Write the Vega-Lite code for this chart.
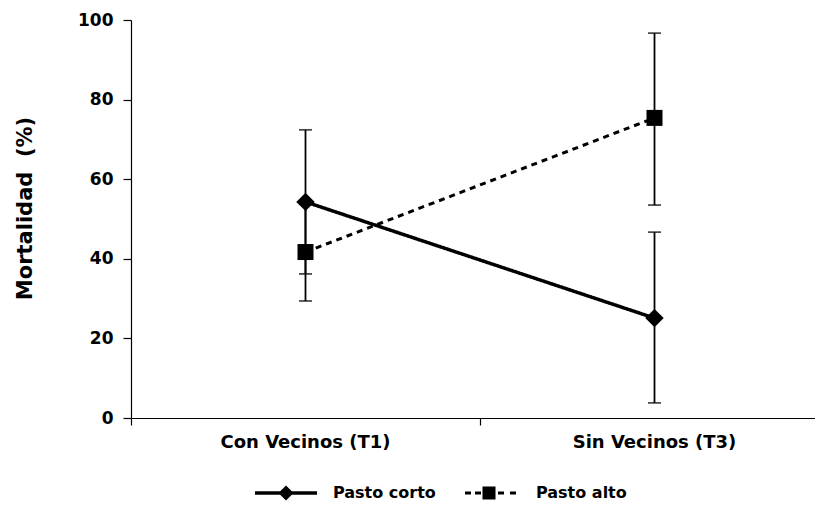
{
  "$schema": "https://vega.github.io/schema/vega-lite/v6.json",
  "autosize": "none",
  "padding": {"left": 131, "top": 20, "right": -14, "bottom": 87},
  "width": 698,
  "height": 398,
  "background": "white",
  "config": {
    "view": {"stroke": null},
    "font": "DejaVu Sans",
    "axis": {"labelFont": "DejaVu Sans", "labelFontWeight": "bold", "labelColor": "black", "titleFont": "DejaVu Sans", "titleColor": "black", "domainColor": "black", "tickColor": "black", "domainWidth": 1.2, "tickWidth": 1.2, "grid": false},
    "legend": {"labelFont": "DejaVu Sans", "labelFontWeight": "bold", "labelColor": "black"}
  },
  "data": {
    "values": [
      {"group": "Pasto corto", "serie": "Pasto corto", "trat": "Con Vecinos (T1)", "m": 54.3, "lo": 36.2, "hi": 72.4},
      {"group": "Pasto corto", "serie": "Pasto corto", "trat": "Sin Vecinos (T3)", "m": 25.1, "lo": 3.8, "hi": 46.7},
      {"group": "Pasto alto", "serie": "Pasto alto", "trat": "Con Vecinos (T1)", "m": 41.7, "lo": 29.4, "hi": 54.0},
      {"group": "Pasto alto", "serie": "Pasto alto", "trat": "Sin Vecinos (T3)", "m": 75.4, "lo": 53.5, "hi": 96.7}
    ]
  },
  "resolve": {"scale": {"shape": "independent", "size": "independent"}},
  "encoding": {
    "x": {
      "field": "trat", "type": "nominal",
      "scale": {"domain": ["Con Vecinos (T1)", "Sin Vecinos (T3)"], "paddingInner": 0, "paddingOuter": 0},
      "axis": {"title": null, "labelAngle": 0, "labelFontSize": 18, "tickSize": 7, "labelPadding": 8, "bandPosition": 0}
    }
  },
  "layer": [
    {
      "mark": {"type": "rule", "color": "black", "strokeWidth": 1.8},
      "encoding": {
        "y": {"field": "lo", "type": "quantitative"},
        "y2": {"field": "hi"}
      }
    },
    {
      "mark": {"type": "tick", "color": "black", "size": 13, "thickness": 1.8},
      "encoding": {"y": {"field": "lo", "type": "quantitative"}}
    },
    {
      "mark": {"type": "tick", "color": "black", "size": 13, "thickness": 1.8},
      "encoding": {"y": {"field": "hi", "type": "quantitative"}}
    },
    {
      "mark": {"type": "line", "color": "black"},
      "encoding": {
        "y": {
          "field": "m", "type": "quantitative",
          "scale": {"domain": [0, 100], "nice": false},
          "axis": {
            "title": "Mortalidad\u00a0 (%)", "titleFontSize": 21, "titleFontWeight": "bold",
            "titleAngle": -90, "titleX": -106, "titleY": 188, "titleAlign": "center", "titleBaseline": "middle",
            "values": [0, 10, 20, 30, 40, 50, 60, 70, 80, 90, 100],
            "labelExpr": "datum.value % 20 === 0 ? datum.label : ''",
            "labelFontSize": 17, "tickSize": 8, "labelPadding": 10
          }
        },
        "detail": {"field": "group"},
        "strokeDash": {
          "field": "group", "type": "nominal",
          "scale": {"domain": ["Pasto corto", "Pasto alto"], "range": [[1, 0], [6, 5]]},
          "legend": null
        },
        "strokeWidth": {
          "field": "group", "type": "nominal",
          "scale": {"domain": ["Pasto corto", "Pasto alto"], "range": [3.5, 3]},
          "legend": null
        }
      }
    },
    {
      "mark": {"type": "point", "filled": true, "color": "black", "opacity": 1, "strokeWidth": 0},
      "encoding": {
        "y": {"field": "m", "type": "quantitative"},
        "shape": {
          "field": "group", "type": "nominal",
          "scale": {"domain": ["Pasto corto", "Pasto alto"], "range": ["diamond", "square"]},
          "legend": null
        },
        "size": {
          "field": "group", "type": "nominal",
          "scale": {"domain": ["Pasto corto", "Pasto alto"], "range": [340, 256]},
          "legend": null
        }
      }
    },
    {
      "transform": [{"filter": "datum.m < 0"}],
      "mark": {"type": "point", "filled": true, "color": "black", "opacity": 1, "strokeWidth": 0, "size": 3844},
      "encoding": {
        "y": {"field": "m", "type": "quantitative"},
        "shape": {
          "field": "serie", "type": "nominal",
          "scale": {"domain": ["Pasto corto", "Pasto alto"], "range": [
            "M-1,-0.055L1,-0.055L1,0.055L-1,0.055Z M0,-0.245L0.245,0L0,0.245L-0.245,0Z",
            "M-0.774,-0.05L-0.581,-0.05L-0.581,0.05L-0.774,0.05Z M-0.452,-0.05L-0.258,-0.05L-0.258,0.05L-0.452,0.05Z M-0.21,-0.21L0.21,-0.21L0.21,0.21L-0.21,0.21Z M0.29,-0.05L0.484,-0.05L0.484,0.05L0.29,0.05Z M0.677,-0.05L0.871,-0.05L0.871,0.05L0.677,0.05Z"
          ]},
          "legend": {
            "title": null, "orient": "none", "direction": "horizontal",
            "legendX": 124, "legendY": 442,
            "labelFontSize": 16, "labelOffset": 16, "columnPadding": 22,
            "symbolSize": 3844, "symbolFillColor": "black", "symbolStrokeWidth": 0, "symbolOpacity": 1
          }
        }
      }
    }
  ]
}
